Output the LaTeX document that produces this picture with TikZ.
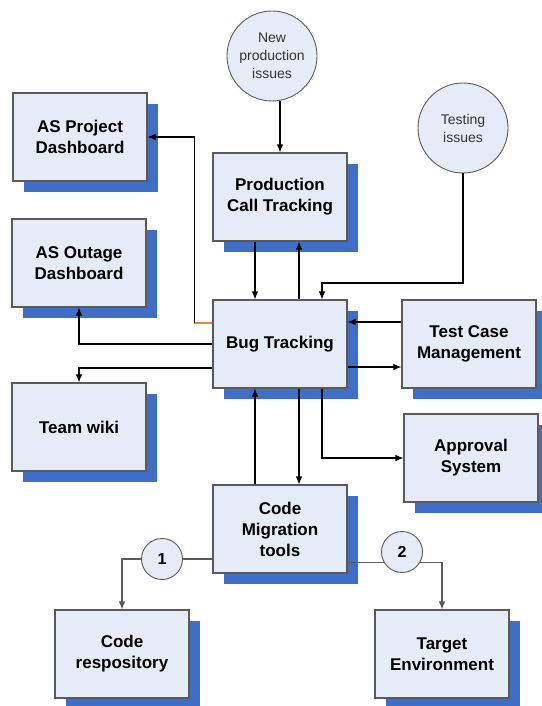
\documentclass[tikz,border=0pt]{standalone}
\usepackage{fontspec}
\setmainfont{Liberation Sans}
\usepackage{tikz}
\usetikzlibrary{arrows.meta,shadows,calc}

\definecolor{boxfill}{RGB}{230,236,247}
\definecolor{shadowblue}{RGB}{62,110,198}
\definecolor{edgegray}{RGB}{90,90,90}
\definecolor{linkorange}{RGB}{240,130,40}

\begin{document}
\begin{tikzpicture}[x=1pt,y=-1pt,
    sysbox/.style={draw=edgegray,line width=1.1pt,fill=boxfill,minimum width=134pt,minimum height=88pt,
      align=center,inner sep=2pt,font=\fontsize{17}{21}\selectfont\bfseries,
      drop shadow={shadow xshift=11pt,shadow yshift=-11pt,fill=shadowblue,opacity=1}},
    srcdisc/.style={draw=edgegray,line width=0.9pt,fill=boxfill,circle,minimum size=90pt,inner sep=0pt,
      align=center,font=\fontsize{14}{18}\selectfont,text=black!80},
    stepdisc/.style={draw=edgegray,line width=0.9pt,fill=boxfill,circle,minimum size=41pt,inner sep=0pt,
      font=\fontsize{16}{18}\selectfont\bfseries},
    flow/.style={line width=1.1pt,-{Latex[length=8pt,width=6.5pt]}},
    steplink/.style={line width=1.1pt,draw=edgegray}]
    \useasboundingbox (0,0) rectangle (541,706);
    % \draw[step=50,gray!30,thin] (0,0) grid (541,706);
    \node[sysbox] (apd) at (80,137) {AS Project\\Dashboard};
    \node[sysbox] (aod) at (79,263) {AS Outage\\Dashboard};
    \node[sysbox] (tw) at (79,427) {Team wiki};
    \node[sysbox] (pct) at (280,197) {Production\\Call Tracking};
    \node[sysbox] (bt) at (280,344) {Bug Tracking};
    \node[sysbox] (tcm) at (469,344) {Test Case\\Management};
    \node[sysbox] (aps) at (471,458) {Approval\\System};
    \node[sysbox] (cm) at (280,529) {Code\\Migration\\tools};
    \node[sysbox] (cr) at (122,654) {Code\\respository};
    \node[sysbox] (te) at (442,654) {Target\\Environment};
    \node[srcdisc] (npi) at (272,56) {New\\production\\issues};
    \node[srcdisc] (ti) at (463,128) {Testing\\issues};
    \node[stepdisc] (s1) at (162,559) {1};
    \node[stepdisc] (s2) at (402,552) {2};
    % issues coming in
    \draw[flow] (npi.south -| pct.north) -- (pct.north);
    \coordinate (tiknee) at (0,283);
    \draw[flow] (ti.south) -- (ti.south |- tiknee) -| ([xshift=42pt]bt.north);
    \draw[flow] ([xshift=-25pt]pct.south) -- ([xshift=-25pt]bt.north);
    \draw[flow] ([xshift=19pt]bt.north) -- ([xshift=19pt]pct.south);
    % dashboards and wiki
    \draw[linkorange,line width=1.1pt] ([yshift=21pt]bt.west) -- ++(-18pt,0) coordinate (apdknee);
    \draw[flow] (apdknee) |- (apd.east);
    \draw[flow] (bt.west) -| (aod.south);
    \draw[flow] ([yshift=-24pt]bt.west) -| (tw.north);
    % test cases, approval
    \coordinate (tcmin) at ([yshift=22pt]tcm.west);
    \draw[flow] (tcmin) -- (tcmin -| bt.east);
    \coordinate (tcmout) at ([yshift=-23pt]bt.east);
    \draw[flow] (tcmout) -- (tcmout -| tcm.west);
    \draw[flow] ([xshift=42pt]bt.south) |- (aps.west);
    % migration
    \draw[flow] ([xshift=19pt]bt.south) -- ([xshift=19pt]cm.north);
    \draw[flow] ([xshift=-25pt]cm.north) -- ([xshift=-25pt]bt.south);
    \draw[steplink] (cm.west |- s1.east) -- (s1.east);
    \draw[flow,steplink] (s1.west) -| (cr.north);
    \draw[steplink] (cm.east |- s2.210) -- (s2.210);
    \draw[flow,steplink] (s2.330) -| (te.north);
\end{tikzpicture}
\end{document}
